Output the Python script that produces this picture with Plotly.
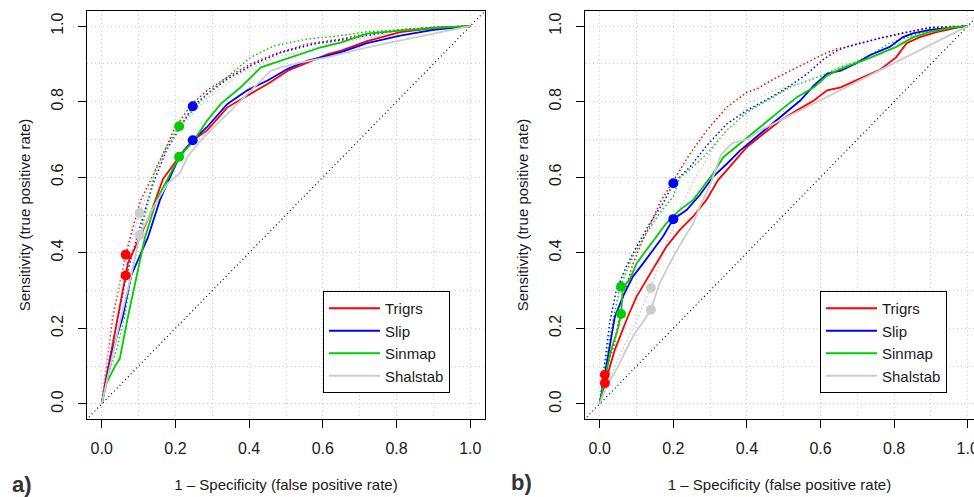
import plotly.graph_objects as go

MODELS = ["Trigrs", "Slip", "Sinmap", "Shalstab"]
COLORS = ["#FF0000", "#0000FF", "#00CD00", "#CCCCCC"]
TICKS = [0.0, 0.2, 0.4, 0.6, 0.8, 1.0]
TICK_LABELS = ["0.0", "0.2", "0.4", "0.6", "0.8", "1.0"]
X_TITLE = "1 – Specificity (false positive rate)"
Y_TITLE = "Sensitivity (true positive rate)"

# ---------------- Panel a) ----------------
A_TRIGRS_FPR = [0, 0.01, 0.027, 0.044, 0.065, 0.071, 0.103, 0.136, 0.166, 0.185, 0.21, 0.247, 0.286, 0.341, 0.395, 0.45, 0.505, 0.559, 0.614, 0.65, 0.72, 0.81, 0.9, 1]
A_TRIGRS_TPR = [0, 0.06, 0.143, 0.23, 0.34, 0.373, 0.44, 0.513, 0.595, 0.62, 0.654, 0.698, 0.724, 0.785, 0.816, 0.847, 0.882, 0.904, 0.926, 0.935, 0.96, 0.984, 0.995, 1]
A_SLIP_FPR = [0, 0.01, 0.03, 0.057, 0.08, 0.125, 0.158, 0.21, 0.247, 0.286, 0.341, 0.395, 0.45, 0.505, 0.559, 0.614, 0.65, 0.72, 0.81, 0.9, 1]
A_SLIP_TPR = [0, 0.05, 0.143, 0.23, 0.34, 0.44, 0.54, 0.654, 0.698, 0.733, 0.794, 0.83, 0.856, 0.887, 0.909, 0.922, 0.931, 0.955, 0.975, 0.99, 1]
A_SINMAP_FPR = [0, 0.006, 0.013, 0.035, 0.049, 0.071, 0.095, 0.117, 0.149, 0.18, 0.21, 0.25, 0.286, 0.323, 0.377, 0.432, 0.486, 0.541, 0.595, 0.65, 0.72, 0.81, 0.9, 1]
A_SINMAP_TPR = [0, 0.03, 0.055, 0.098, 0.12, 0.23, 0.34, 0.44, 0.54, 0.6, 0.654, 0.697, 0.75, 0.794, 0.838, 0.891, 0.909, 0.926, 0.944, 0.957, 0.98, 0.988, 0.995, 1]
A_SHALSTAB_FPR = [0, 0.02, 0.05, 0.08, 0.103, 0.14, 0.18, 0.212, 0.232, 0.268, 0.314, 0.368, 0.414, 0.459, 0.486, 0.541, 0.614, 0.72, 0.9, 1]
A_SHALSTAB_TPR = [0, 0.09, 0.22, 0.34, 0.447, 0.52, 0.585, 0.61, 0.653, 0.697, 0.741, 0.794, 0.838, 0.882, 0.891, 0.904, 0.918, 0.944, 0.98, 1]

A_TRIGRS_FPR_DOT = [0, 0.012, 0.03, 0.054, 0.065, 0.08, 0.105, 0.159, 0.195, 0.241, 0.286, 0.341, 0.405, 0.468, 0.559, 0.65, 0.72, 0.81, 0.9, 1]
A_TRIGRS_TPR_DOT = [0, 0.1, 0.23, 0.34, 0.395, 0.45, 0.538, 0.644, 0.724, 0.79, 0.83, 0.865, 0.9, 0.926, 0.953, 0.966, 0.98, 0.99, 0.997, 1]
A_SLIP_FPR_DOT = [0, 0.015, 0.044, 0.067, 0.098, 0.14, 0.176, 0.247, 0.286, 0.341, 0.414, 0.486, 0.577, 0.65, 0.81, 0.9, 1]
A_SLIP_TPR_DOT = [0, 0.09, 0.23, 0.34, 0.45, 0.585, 0.672, 0.788, 0.82, 0.86, 0.9, 0.93, 0.953, 0.963, 0.99, 0.996, 1]
A_SINMAP_FPR_DOT = [0, 0.015, 0.04, 0.062, 0.08, 0.105, 0.13, 0.145, 0.175, 0.21, 0.286, 0.341, 0.405, 0.468, 0.559, 0.65, 0.72, 0.81, 0.9, 1]
A_SINMAP_TPR_DOT = [0, 0.07, 0.143, 0.23, 0.34, 0.45, 0.55, 0.62, 0.68, 0.735, 0.821, 0.865, 0.918, 0.948, 0.966, 0.975, 0.985, 0.99, 0.996, 1]
A_SHALSTAB_FPR_DOT = [0, 0.01, 0.027, 0.05, 0.08, 0.103, 0.14, 0.18, 0.22, 0.286, 0.377, 0.468, 0.65, 0.81, 1]
A_SHALSTAB_TPR_DOT = [0, 0.08, 0.23, 0.33, 0.43, 0.505, 0.6, 0.68, 0.74, 0.81, 0.874, 0.918, 0.957, 0.985, 1]

A_POINT_FPR = [0.065, 0.247, 0.21, 0.103]
A_POINT_TPR_DOT = [0.395, 0.788, 0.735, 0.505]
A_POINT_TPR = [0.34, 0.698, 0.654, 0.447]

# ---------------- Panel b) ----------------
B_TRIGRS_FPR = [0, 0.008, 0.014, 0.025, 0.041, 0.076, 0.1, 0.122, 0.154, 0.181, 0.217, 0.254, 0.29, 0.322, 0.345, 0.4, 0.445, 0.491, 0.536, 0.582, 0.618, 0.655, 0.698, 0.761, 0.806, 0.834, 0.87, 0.915, 0.978, 1]
B_TRIGRS_TPR = [0, 0.03, 0.055, 0.09, 0.143, 0.23, 0.284, 0.32, 0.372, 0.416, 0.46, 0.496, 0.54, 0.593, 0.618, 0.68, 0.715, 0.75, 0.777, 0.803, 0.83, 0.838, 0.857, 0.884, 0.918, 0.955, 0.971, 0.984, 0.997, 1]
B_SLIP_FPR = [0, 0.008, 0.014, 0.024, 0.041, 0.063, 0.09, 0.118, 0.145, 0.172, 0.2, 0.236, 0.272, 0.308, 0.345, 0.382, 0.436, 0.491, 0.545, 0.582, 0.618, 0.655, 0.698, 0.734, 0.788, 0.824, 0.851, 0.897, 0.978, 1]
B_SLIP_TPR = [0, 0.045, 0.08, 0.143, 0.23, 0.284, 0.337, 0.372, 0.408, 0.443, 0.489, 0.513, 0.553, 0.601, 0.635, 0.671, 0.715, 0.759, 0.803, 0.843, 0.874, 0.882, 0.902, 0.923, 0.945, 0.971, 0.981, 0.99, 0.997, 1]
B_SINMAP_FPR = [0, 0.01, 0.03, 0.05, 0.058, 0.063, 0.082, 0.1, 0.127, 0.154, 0.181, 0.217, 0.254, 0.281, 0.308, 0.336, 0.382, 0.436, 0.491, 0.536, 0.582, 0.618, 0.655, 0.734, 0.806, 0.851, 0.897, 0.95, 1]
B_SINMAP_TPR = [0, 0.05, 0.14, 0.2, 0.238, 0.31, 0.33, 0.372, 0.408, 0.443, 0.478, 0.513, 0.54, 0.575, 0.61, 0.653, 0.689, 0.733, 0.777, 0.812, 0.838, 0.869, 0.887, 0.916, 0.945, 0.97, 0.985, 0.995, 1]
B_SHALSTAB_FPR = [0, 0.015, 0.03, 0.049, 0.07, 0.095, 0.12, 0.139, 0.163, 0.181, 0.2, 0.226, 0.254, 0.272, 0.3, 0.315, 0.33, 0.36, 0.4, 0.436, 1]
B_SHALSTAB_TPR = [0, 0.04, 0.065, 0.098, 0.14, 0.187, 0.22, 0.249, 0.32, 0.354, 0.39, 0.434, 0.478, 0.522, 0.58, 0.62, 0.66, 0.69, 0.7, 0.724, 1]

B_TRIGRS_FPR_DOT = [0, 0.007, 0.014, 0.04, 0.063, 0.09, 0.117, 0.14, 0.165, 0.2, 0.245, 0.291, 0.345, 0.4, 0.427, 0.473, 0.518, 0.564, 0.609, 0.645, 0.671, 0.761, 0.834, 0.897, 0.978, 1]
B_TRIGRS_TPR_DOT = [0, 0.04, 0.077, 0.16, 0.28, 0.37, 0.434, 0.48, 0.535, 0.59, 0.662, 0.724, 0.785, 0.825, 0.834, 0.86, 0.882, 0.904, 0.926, 0.94, 0.945, 0.968, 0.984, 0.997, 1, 1]
B_SLIP_FPR_DOT = [0, 0.01, 0.027, 0.045, 0.072, 0.1, 0.136, 0.172, 0.2, 0.245, 0.291, 0.345, 0.4, 0.473, 0.518, 0.564, 0.609, 0.645, 0.671, 0.761, 0.834, 0.897, 1]
B_SLIP_TPR_DOT = [0, 0.08, 0.214, 0.3, 0.363, 0.416, 0.478, 0.531, 0.584, 0.627, 0.684, 0.741, 0.777, 0.816, 0.843, 0.874, 0.913, 0.935, 0.945, 0.968, 0.984, 0.995, 1]
B_SINMAP_FPR_DOT = [0, 0.01, 0.03, 0.055, 0.09, 0.127, 0.163, 0.2, 0.218, 0.245, 0.291, 0.345, 0.4, 0.473, 0.52, 0.564, 0.606, 0.65, 0.698, 0.743, 0.788, 0.87, 0.92, 1]
B_SINMAP_TPR_DOT = [0, 0.07, 0.19, 0.31, 0.39, 0.452, 0.505, 0.549, 0.6, 0.62, 0.662, 0.724, 0.772, 0.812, 0.84, 0.855, 0.87, 0.89, 0.905, 0.928, 0.955, 0.981, 0.994, 1]
B_SHALSTAB_FPR_DOT = [0, 0.02, 0.05, 0.1, 0.139, 0.18, 0.22, 0.26, 0.3, 0.34, 0.382, 0.4, 0.473, 0.55, 0.65, 0.75, 0.85, 0.93, 1]
B_SHALSTAB_TPR_DOT = [0, 0.05, 0.12, 0.22, 0.307, 0.42, 0.52, 0.6, 0.662, 0.72, 0.759, 0.795, 0.83, 0.85, 0.89, 0.93, 0.97, 0.99, 1]

B_POINT_FPR = [0.014, 0.2, 0.058, 0.139]
B_POINT_TPR_DOT = [0.077, 0.584, 0.31, 0.307]
B_POINT_TPR = [0.055, 0.489, 0.238, 0.249]

PANELS = [
    dict(solid=[(A_TRIGRS_FPR, A_TRIGRS_TPR), (A_SLIP_FPR, A_SLIP_TPR), (A_SINMAP_FPR, A_SINMAP_TPR), (A_SHALSTAB_FPR, A_SHALSTAB_TPR)],
         dotted=[(A_TRIGRS_FPR_DOT, A_TRIGRS_TPR_DOT), (A_SLIP_FPR_DOT, A_SLIP_TPR_DOT), (A_SINMAP_FPR_DOT, A_SINMAP_TPR_DOT), (A_SHALSTAB_FPR_DOT, A_SHALSTAB_TPR_DOT)],
         pfpr=A_POINT_FPR, ptpr=A_POINT_TPR, ptpr_dot=A_POINT_TPR_DOT, legend="legend"),
    dict(solid=[(B_TRIGRS_FPR, B_TRIGRS_TPR), (B_SLIP_FPR, B_SLIP_TPR), (B_SINMAP_FPR, B_SINMAP_TPR), (B_SHALSTAB_FPR, B_SHALSTAB_TPR)],
         dotted=[(B_TRIGRS_FPR_DOT, B_TRIGRS_TPR_DOT), (B_SLIP_FPR_DOT, B_SLIP_TPR_DOT), (B_SINMAP_FPR_DOT, B_SINMAP_TPR_DOT), (B_SHALSTAB_FPR_DOT, B_SHALSTAB_TPR_DOT)],
         pfpr=B_POINT_FPR, ptpr=B_POINT_TPR, ptpr_dot=B_POINT_TPR_DOT, legend="legend2"),
]

W, H = 974, 497
FONT = "Liberation Sans, Arial, Helvetica, sans-serif"
TXT = "#1a1a1a"
GRID_DASH = "1px,3px"

fig = go.Figure()
axes = [("x", "y"), ("x2", "y2")]
for p, (xa, ya) in zip(PANELS, axes):
    # diagonal reference y = x
    fig.add_trace(go.Scatter(x=[-0.05, 1.05], y=[-0.05, 1.05], mode="lines", xaxis=xa, yaxis=ya,
                             line=dict(color="black", width=1.2, dash="1px,3px"), showlegend=False, hoverinfo="skip"))
    for i, name in enumerate(MODELS):
        fx, ty = p["dotted"][i]
        fig.add_trace(go.Scatter(x=fx, y=ty, mode="lines", xaxis=xa, yaxis=ya,
                                 line=dict(color=COLORS[i], width=1.5, dash="1.5px,2.5px"), showlegend=False))
    for i, name in enumerate(MODELS):
        fx, ty = p["solid"][i]
        fig.add_trace(go.Scatter(x=fx, y=ty, mode="lines", xaxis=xa, yaxis=ya, name=name,
                                 legend=p["legend"], line=dict(color=COLORS[i], width=1.8)))
    for i, name in enumerate(MODELS):
        fig.add_trace(go.Scatter(x=[p["pfpr"][i], p["pfpr"][i]], y=[p["ptpr_dot"][i], p["ptpr"][i]],
                                 mode="markers", xaxis=xa, yaxis=ya, showlegend=False,
                                 marker=dict(color=COLORS[i], size=10, line=dict(width=0))))

def xaxis_cfg(domain, rng):
    return dict(domain=domain, range=rng, tickvals=TICKS, ticktext=TICK_LABELS, ticks="outside", ticklen=8,
                tickcolor="black", tickwidth=1, showline=True, mirror=True, linecolor="black", linewidth=1.3,
                showgrid=True, gridcolor="#cccccc", griddash=GRID_DASH, gridwidth=1, zeroline=False,
                minor=dict(tickvals=[0.1, 0.3, 0.5, 0.7, 0.9], showgrid=True, gridcolor="#cccccc", griddash=GRID_DASH),
                tickfont=dict(size=16, color=TXT), ticklabelstandoff=7, automargin=False,
                ticklabeloverflow="allow",
                title=dict(text=X_TITLE, font=dict(size=15, color=TXT), standoff=23))

def yaxis_cfg(domain, anchor):
    return dict(domain=domain, range=[-0.04, 1.04], anchor=anchor, tickvals=TICKS, ticktext=TICK_LABELS,
                ticks="outside", ticklen=8, tickcolor="black", tickwidth=1, tickangle=-90,
                showline=True, mirror=True, linecolor="black", linewidth=1.3,
                showgrid=True, gridcolor="#cccccc", griddash=GRID_DASH, gridwidth=1, zeroline=False,
                minor=dict(tickvals=[0.1, 0.3, 0.5, 0.7, 0.9], showgrid=True, gridcolor="#cccccc", griddash=GRID_DASH),
                tickfont=dict(size=16, color=TXT), ticklabelstandoff=8, automargin=False,
                title=dict(text=Y_TITLE, font=dict(size=15, color=TXT), standoff=15))

ydom = [1 - 419 / H, 1 - 11 / H]
x2_right = -0.04 + (974 - 585) / 368.0
legend_common = dict(yanchor="top", xanchor="left", bgcolor="white", bordercolor="black", borderwidth=1,
                     font=dict(size=15, color=TXT), itemwidth=51, tracegroupgap=0)
fig.update_layout(
    width=W, height=H, margin=dict(l=0, r=0, t=0, b=0, autoexpand=False),
    paper_bgcolor="white", plot_bgcolor="white",
    font=dict(family=FONT, color=TXT),
    xaxis=xaxis_cfg([87 / W, 485 / W], [-0.04, 1.04]) | dict(anchor="y"),
    yaxis=yaxis_cfg(ydom, "x"),
    xaxis2=xaxis_cfg([585 / W, 1.0], [-0.04, x2_right]) | dict(anchor="y2"),
    yaxis2=yaxis_cfg(ydom, "x2"),
    legend=dict(x=323 / W, y=1 - 291 / H, **legend_common),
    legend2=dict(x=820 / W, y=1 - 291 / H, **legend_common),
    annotations=[
        dict(text="<b>a)</b>", x=22 / W, y=1 - 484 / H, xref="paper", yref="paper", showarrow=False,
             xanchor="center", yanchor="middle", font=dict(size=22, color="#333333")),
        dict(text="<b>b)</b>", x=521 / W, y=1 - 482 / H, xref="paper", yref="paper", showarrow=False,
             xanchor="center", yanchor="middle", font=dict(size=22, color="#333333")),
    ],
)

fig.write_html("out.html", config={"displayModeBar": False},
               post_script="document.body.style.margin='0';document.body.style.overflow='hidden';")
